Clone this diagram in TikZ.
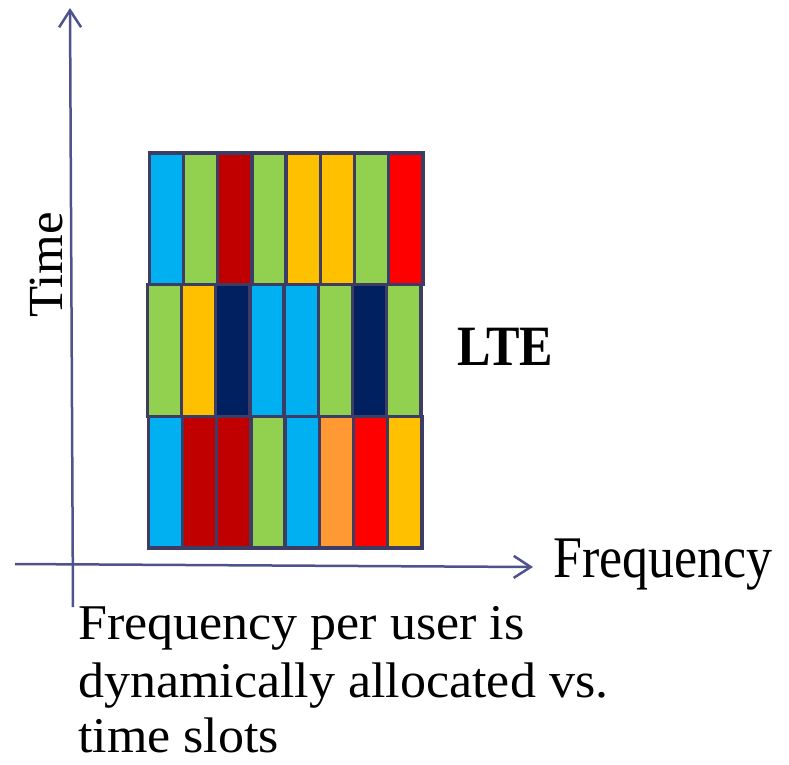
\documentclass[tikz,border=0pt]{standalone}
\usepackage{fontspec}
\setmainfont[FakeStretch=1.04]{Liberation Serif}
\newfontfamily\narrowfont[FakeStretch=0.88]{Liberation Serif}
\usepackage{xcolor}
\usetikzlibrary{arrows.meta}
\definecolor{axisblue}{RGB}{80,82,140}
\definecolor{gridline}{RGB}{60,60,100}
\definecolor{cyanblue}{RGB}{0,176,240}
\definecolor{lightgreen}{RGB}{146,208,80}
\definecolor{darkred}{RGB}{192,0,0}
\definecolor{amber}{RGB}{255,192,0}
\definecolor{brightred}{RGB}{255,0,0}
\definecolor{navy}{RGB}{0,32,96}
\definecolor{lightorange}{RGB}{255,153,51}
\tikzset{>={Straight Barb[length=17pt,width=22pt]}}
\tikzset{%
    axis/.style={->,draw=axisblue,line width=2.5pt},
    slot/.style={draw=gridline,line width=3.5pt},
    label/.style={inner sep=0pt,anchor=base west}
}

\begin{document}
\begin{tikzpicture}[x=1pt,y=-1pt]
    \useasboundingbox (0,0) rectangle (789,764);
    % one row of slots per time slot
    \foreach \ytop/\xleft/\colours in {%
        153/149.3/{cyanblue,lightgreen,darkred,lightgreen,amber,amber,lightgreen,brightred},
        284.7/147.3/{lightgreen,amber,navy,cyanblue,cyanblue,lightgreen,navy,lightgreen},
        416.4/148.3/{cyanblue,darkred,darkred,lightgreen,cyanblue,lightorange,brightred,amber}}{
      \foreach \c [count=\i from 0] in \colours
        \filldraw[slot,fill=\c] (\xleft+34.2*\i,\ytop) rectangle ++(34.2,131.7);
    }
    \coordinate (torigin) at (73,607);
    \coordinate (ttop) at (70,8);
    \coordinate (fstart) at (15,564);
    \coordinate (fend) at (533,567);
    \draw[axis] (torigin) -- (ttop);
    \draw[axis] (fstart) -- (fend);
    \node[label,rotate=90,anchor=base,font=\fontsize{49}{56}\selectfont] (time) at (62,265) {Time};
    \node[label,font=\fontsize{57}{62}\narrowfont\bfseries] (lte) at (457,365) {LTE};
    \node[label,font=\fontsize{59}{64}\narrowfont] (freq) at (553,577) {Frequency};
    \node[label,font=\fontsize{50}{57}\selectfont] (note1) at (78,639) {Frequency per user is};
    \node[label,font=\fontsize{50}{57}\selectfont] (note2) at (78,697) {dynamically allocated vs.};
    \node[label,font=\fontsize{50}{57}\selectfont] (note3) at (78,752) {time slots};
\end{tikzpicture}
\end{document}
